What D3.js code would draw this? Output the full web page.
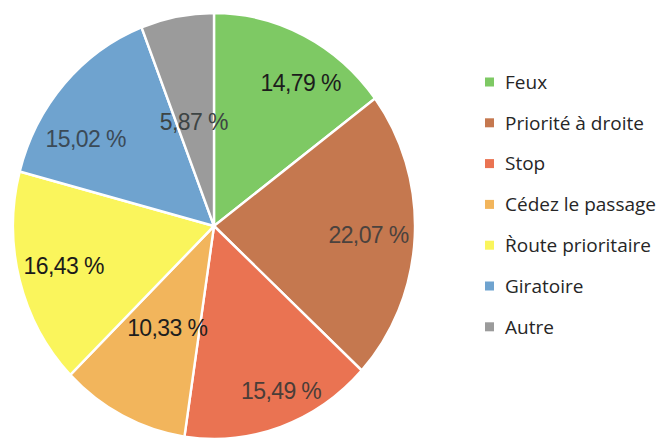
<!DOCTYPE html>
<html>
<head>
<meta charset="utf-8">
<script src="https://cdn.jsdelivr.net/npm/d3@7"></script>
<style>
  html, body { margin: 0; padding: 0; background: #fff; }
  svg { display: block; }
</style>
</head>
<body>
<svg id="chart" width="662" height="439"></svg>
<script>
// Répartition par type d'intersection (%)
const categories = ["Feux", "Priorité à droite", "Stop", "Cédez le passage", "R\u0300oute prioritaire", "Giratoire", "Autre"];
const values = [14.79, 22.07, 15.49, 10.33, 16.43, 15.02, 5.87];
const labels = ["14,79 %", "22,07 %", "15,49 %", "10,33 %", "16,43 %", "15,02 %", "5,87 %"];
const colors = ["#7ec964", "#c5784f", "#ea7352", "#f2b55c", "#faf55c", "#6fa3cf", "#9b9b9b"];
const labelColors = ["#1c1c1c", "#4a423e", "#4a3d38", "#1e1e1e", "#1a1a1a", "#3b4a57", "#3d4444"];
// label placement: fraction of radius, angular nudge (degrees)
const labelRadius = [0.80, 0.77, 0.84, 0.53, 0.77, 0.76, 0.50];
const labelNudge = [6, 0, -4, -1, 1, -9, -1];

const svg = d3.select("#chart");
const cx = 214, cy = 226, r = 201, sy = 1.06;

const data = categories.map((c, i) => ({ name: c, value: values[i], label: labels[i], i }));

const pie = d3.pie().value(d => d.value).sort(null);
const arcs = pie(data);
const arc = d3.arc().innerRadius(0).outerRadius(r);

const g = svg.append("g").attr("transform", `translate(${cx},${cy}) scale(1,${sy})`);

g.selectAll("path.slice")
  .data(arcs)
  .join("path")
  .attr("class", "slice")
  .attr("d", arc)
  .attr("fill", d => colors[d.data.i])
  .attr("stroke", "#fff")
  .attr("stroke-width", 2.4)
  .attr("stroke-linejoin", "round");

// percentage labels
g.selectAll("text.val")
  .data(arcs)
  .join("text")
  .attr("class", "val")
  .each(function(d) {
    const i = d.data.i;
    const a = (d.startAngle + d.endAngle) / 2 + labelNudge[i] * Math.PI / 180;
    const rr = r * labelRadius[i];
    d3.select(this)
      .attr("transform", `translate(${rr * Math.sin(a)},${-rr * Math.cos(a)})`);
  })
  .attr("text-anchor", "middle")
  .attr("dy", "0.36em")
  .attr("font-family", "'Liberation Sans', Arial, sans-serif")
  .attr("font-size", 23)
  .attr("letter-spacing", -0.6)
  .attr("fill", d => labelColors[d.data.i])
  .text(d => d.data.label);

// legend
const legend = svg.append("g").attr("transform", "translate(485,82)");
const row = legend.selectAll("g.item")
  .data(data)
  .join("g")
  .attr("class", "item")
  .attr("transform", d => `translate(0,${d.i * 40.8})`);

row.append("rect")
  .attr("x", 0).attr("y", -4.5)
  .attr("width", 9).attr("height", 9)
  .attr("fill", d => colors[d.i]);

row.append("text")
  .attr("x", 20)
  .attr("dy", "0.36em")
  .attr("font-family", "'Open Sans', 'Noto Sans', sans-serif")
  .attr("font-size", 19)
  .attr("fill", "#262626")
  .text(d => d.name);
</script>
</body>
</html>
